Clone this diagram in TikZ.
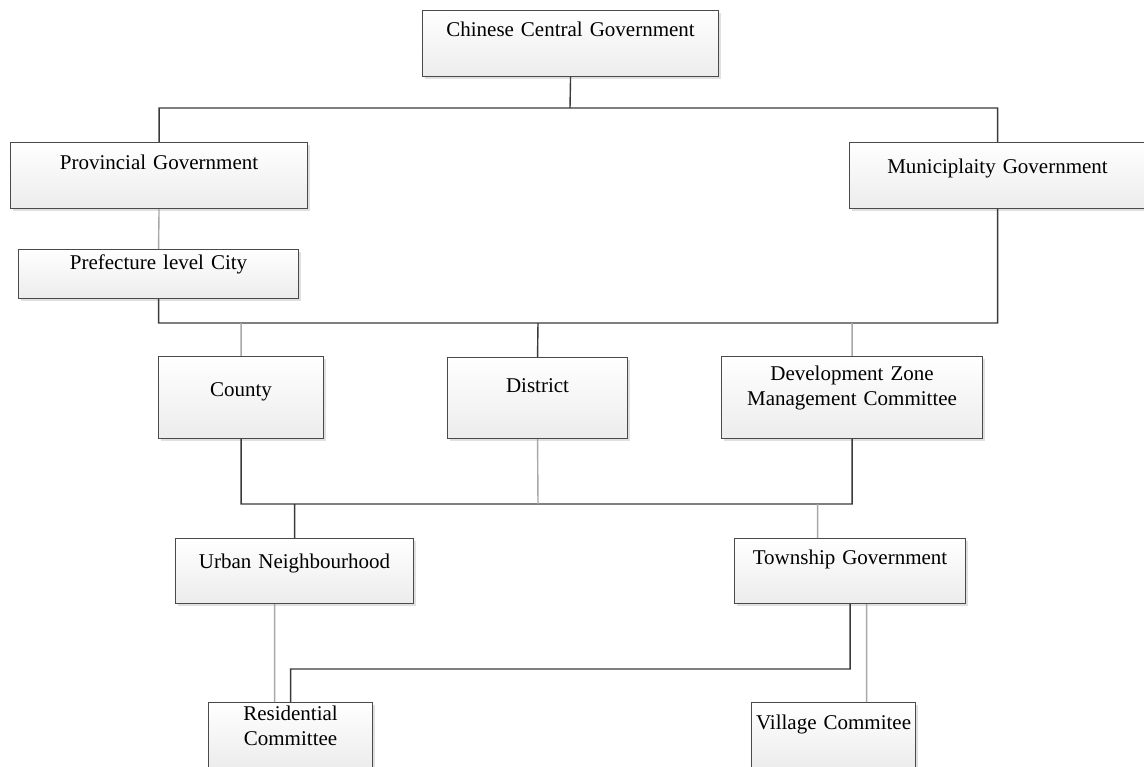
\documentclass[tikz,border=0pt]{standalone}
\usepackage{fontspec}
\setmainfont{Liberation Serif}
\usepackage{xcolor}
\usepackage{tikz}
\usetikzlibrary{shadows}

\definecolor{boxline}{HTML}{4A4A4A}
\definecolor{boxgray}{HTML}{ECECEC}
\definecolor{linedark}{HTML}{3A3A3A}
\definecolor{linegray}{HTML}{A8A8A8}

\tikzset{
  unit/.style={draw=boxline, line width=1.1pt, top color=white, bottom color=boxgray,
    inner sep=0pt, anchor=north west, align=center, font=\fontsize{21}{25}\selectfont,
    general shadow={fill=black!12, shadow xshift=2.5pt, shadow yshift=-2.5pt}},
  link/.style={draw=linedark, line width=1.4pt},
  weak/.style={draw=linegray, line width=1.4pt}
}

\begin{document}
\begin{tikzpicture}[x=1pt,y=-1pt]
\useasboundingbox (0,0) rectangle (1144,767);

\node[unit, text width=296pt, text height=26pt, text depth=40pt] (central) at (422,10) {Chinese Central Government};
  \node[unit, text width=297pt, text height=27pt, text depth=39pt] (provincial) at (10,142) {Provincial Government};
  \node[unit, text width=296pt, text height=31pt, text depth=35pt] (municipal) at (849,142) {Municiplaity Government};
  \node[unit, text width=280pt, text height=20pt, text depth=29pt] (prefecture) at (18,249) {Prefecture level City};
  \node[unit, text width=165pt, text height=40pt, text depth=42pt] (county) at (158,356) {County};
  \node[unit, text width=180pt, text height=35pt, text depth=46pt] (district) at (447,357) {District};
  \node[unit, text width=261pt, text height=24pt, text depth=58pt] (devzone) at (721,356) {Development Zone\\Management Committee};
  \node[unit, text width=238pt, text height=30pt, text depth=35pt] (urban) at (175,538) {Urban Neighbourhood};
  \node[unit, text width=231pt, text height=26pt, text depth=39pt] (township) at (734,538) {Township Government};
  \node[unit, text width=164pt, text height=18pt, text depth=48pt] (residential) at (208,702) {Residential\\Committee};
  \node[unit, text width=164pt, text height=27pt, text depth=39pt] (village) at (751,702) {Village Commitee};

  \coordinate (topbus) at (570,108);
  \coordinate (midbus) at (538,323);
  \coordinate (lowbus) at (538,504);

  \path[link]
        (central.south) -- (topbus)
        (provincial.north) |- (topbus) -| (municipal.north)
        (prefecture.south) |- (midbus) -| (municipal.south)
        (midbus) -- (district.north)
        (county.south) |- (lowbus) -| (devzone.south)
        (urban.north) -- (urban.north |- lowbus)
        (residential.north) -- ++(0,-33) -| (township.south);

  \path[weak]
        (provincial.south) -- (prefecture.north)
        (county.north) -- (county.north |- midbus)
        (devzone.north) -- (devzone.north |- midbus)
        (district.south) -- (lowbus)
        ([xshift=-32.5pt]township.north) -- ([xshift=-32.5pt]township.north |- lowbus)
        ([xshift=-16pt]residential.north) -- ([xshift=-16pt]residential.north |- urban.south)
        ([xshift=33pt]village.north) -- ([xshift=33pt]village.north |- township.south);

\end{tikzpicture}
\end{document}
